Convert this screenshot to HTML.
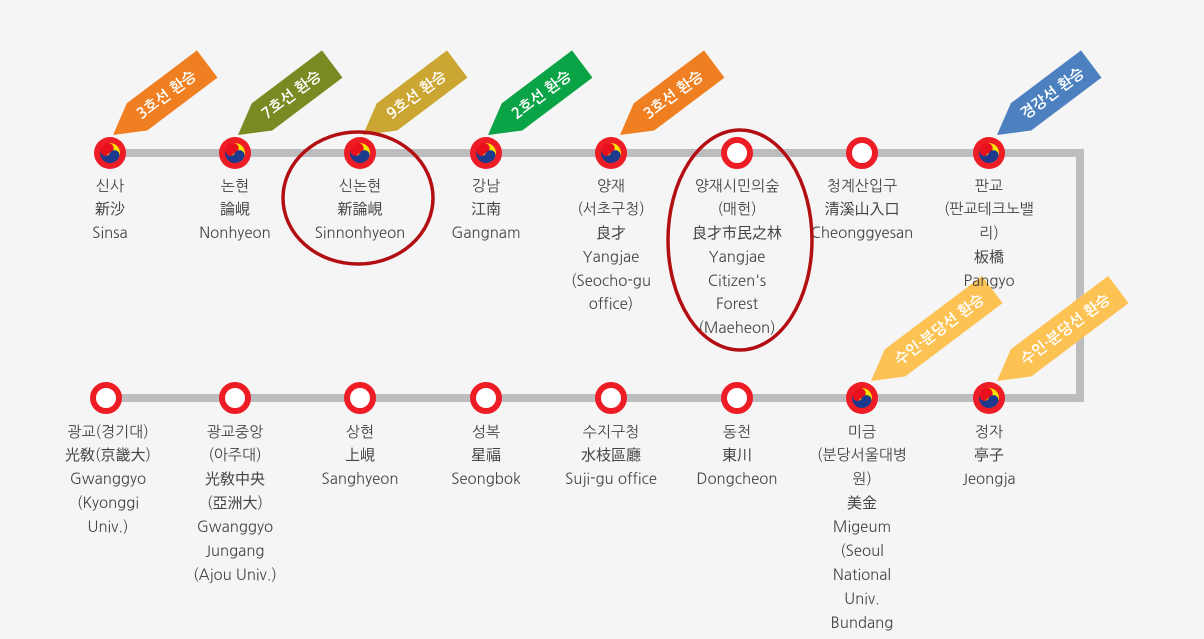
<!DOCTYPE html>
<html><head><meta charset="utf-8">
<style>
html,body{margin:0;padding:0;background:#f5f5f5;}
svg{display:block;}
text{font-family:"NanumGothic","Liberation Sans","Noto Sans CJK KR",sans-serif;}
.l{font-size:15px;fill:#444;text-anchor:middle;}
.t{font-size:15px;font-weight:bold;fill:#fff;}
</style></head><body>
<svg width="1204" height="639" viewBox="0 0 1204 639" xmlns="http://www.w3.org/2000/svg">
<rect width="1204" height="639" fill="#f5f5f5"/>
<defs>
<g id="tg">
<circle r="16" fill="#ee1c25"/>
<circle r="10" fill="#e8101a"/>
<path d="M0,-10 A10,10 0 0,1 0,10 A5,5 0 0,1 0,0 A5,5 0 0,0 0,-10Z" fill="#f7e200" transform="rotate(-15)"/>
<path d="M-10,0 A10,10 0 0,0 10,0 A5,5 0 0,0 0,0 A5,5 0 0,1 -10,0Z" fill="#1d3a8f" transform="rotate(25)"/>
</g>
<g id="pl"><circle r="13" fill="#fff" stroke="#ee1c25" stroke-width="6"/></g>
</defs>
<polyline points="110,153 1080,153 1080,398 110,398" fill="none" stroke="#bdbdbf" stroke-width="8"/>

<g transform="translate(113,135) rotate(-37)"><polygon points="0,0 30,-17 118,-17 118,17 30,17" fill="#f07f22"/><text class="t" x="32" y="5">3호선 환승</text></g>
<g transform="translate(238,135) rotate(-37)"><polygon points="0,0 30,-17 118,-17 118,17 30,17" fill="#7a8a22"/><text class="t" x="32" y="5">7호선 환승</text></g>
<g transform="translate(363,135) rotate(-37)"><polygon points="0,0 30,-17 118,-17 118,17 30,17" fill="#cba632"/><text class="t" x="32" y="5">9호선 환승</text></g>
<g transform="translate(488,135) rotate(-37)"><polygon points="0,0 30,-17 118,-17 118,17 30,17" fill="#0aa447"/><text class="t" x="32" y="5">2호선 환승</text></g>
<g transform="translate(620,135) rotate(-37)"><polygon points="0,0 30,-17 118,-17 118,17 30,17" fill="#f07f22"/><text class="t" x="32" y="5">3호선 환승</text></g>
<g transform="translate(997,135) rotate(-37)"><polygon points="0,0 30,-17 118,-17 118,17 30,17" fill="#4d80bf"/><text class="t" x="32" y="5">경강선 환승</text></g>
<g transform="translate(871,381) rotate(-37)"><polygon points="0,0 30,-17 152,-17 152,17 30,17" fill="#fcc254"/><text class="t" x="32" y="5">수인·분당선 환승</text></g>
<g transform="translate(997,381) rotate(-37)"><polygon points="0,0 30,-17 152,-17 152,17 30,17" fill="#fcc254"/><text class="t" x="32" y="5">수인·분당선 환승</text></g>

<use href="#tg" x="110" y="153"/><use href="#tg" x="235" y="153"/><use href="#tg" x="360" y="153"/><use href="#tg" x="486" y="153"/><use href="#tg" x="611" y="153"/>
<use href="#pl" x="737" y="153"/><use href="#pl" x="862" y="153"/><use href="#tg" x="989" y="153"/>
<use href="#pl" x="106" y="398"/><use href="#pl" x="235" y="398"/><use href="#pl" x="360" y="398"/><use href="#pl" x="486" y="398"/><use href="#pl" x="611" y="398"/><use href="#pl" x="737" y="398"/>
<use href="#tg" x="862" y="398"/><use href="#tg" x="989" y="398"/>

<g class="l">
<text x="110" y="191">신사</text><text x="110" y="214">新沙</text><text x="110" y="238">Sinsa</text>
<text x="235" y="191">논현</text><text x="235" y="214">論峴</text><text x="235" y="238">Nonhyeon</text>
<text x="360" y="191">신논현</text><text x="360" y="214">新論峴</text><text x="360" y="238">Sinnonhyeon</text>
<text x="486" y="191">강남</text><text x="486" y="214">江南</text><text x="486" y="238">Gangnam</text>
<text x="611" y="191">양재</text><text x="611" y="214">(서초구청)</text><text x="611" y="238">良才</text><text x="611" y="262">Yangjae</text><text x="611" y="286">(Seocho-gu</text><text x="611" y="309">office)</text>
<text x="737" y="191">양재시민의숲</text><text x="737" y="214">(매헌)</text><text x="737" y="238">良才市民之林</text><text x="737" y="262">Yangjae</text><text x="737" y="286">Citizen's</text><text x="737" y="309">Forest</text><text x="737" y="333">(Maeheon)</text>
<text x="862" y="191">청계산입구</text><text x="862" y="214">清溪山入口</text><text x="862" y="238">Cheonggyesan</text>
<text x="989" y="191">판교</text><text x="989" y="214">(판교테크노밸</text><text x="989" y="238">리)</text><text x="989" y="262">板橋</text><text x="989" y="286">Pangyo</text>
</g>
<g class="l">
<text x="108" y="437">광교(경기대)</text><text x="108" y="460">光敎(京畿大)</text><text x="108" y="484">Gwanggyo</text><text x="108" y="508">(Kyonggi</text><text x="108" y="532">Univ.)</text>
<text x="235" y="437">광교중앙</text><text x="235" y="460">(아주대)</text><text x="235" y="484">光敎中央</text><text x="235" y="508">(亞洲大)</text><text x="235" y="532">Gwanggyo</text><text x="235" y="556">Jungang</text><text x="235" y="580">(Ajou Univ.)</text>
<text x="360" y="437">상현</text><text x="360" y="460">上峴</text><text x="360" y="484">Sanghyeon</text>
<text x="486" y="437">성복</text><text x="486" y="460">星福</text><text x="486" y="484">Seongbok</text>
<text x="611" y="437">수지구청</text><text x="611" y="460">水枝區廳</text><text x="611" y="484">Suji-gu office</text>
<text x="737" y="437">동천</text><text x="737" y="460">東川</text><text x="737" y="484">Dongcheon</text>
<text x="862" y="437">미금</text><text x="862" y="460">(분당서울대병</text><text x="862" y="484">원)</text><text x="862" y="508">美金</text><text x="862" y="532">Migeum</text><text x="862" y="556">(Seoul</text><text x="862" y="580">National</text><text x="862" y="604">Univ.</text><text x="862" y="628">Bundang</text><text x="862" y="652">Hospital)</text>
<text x="989" y="437">정자</text><text x="989" y="460">亭子</text><text x="989" y="484">Jeongja</text>
</g>

<ellipse cx="358" cy="198" rx="75" ry="66" fill="none" stroke="#b30e12" stroke-width="3.5"/>
<ellipse cx="740" cy="240" rx="72" ry="110" fill="none" stroke="#b30e12" stroke-width="3.5"/>
</svg>
</body></html>
